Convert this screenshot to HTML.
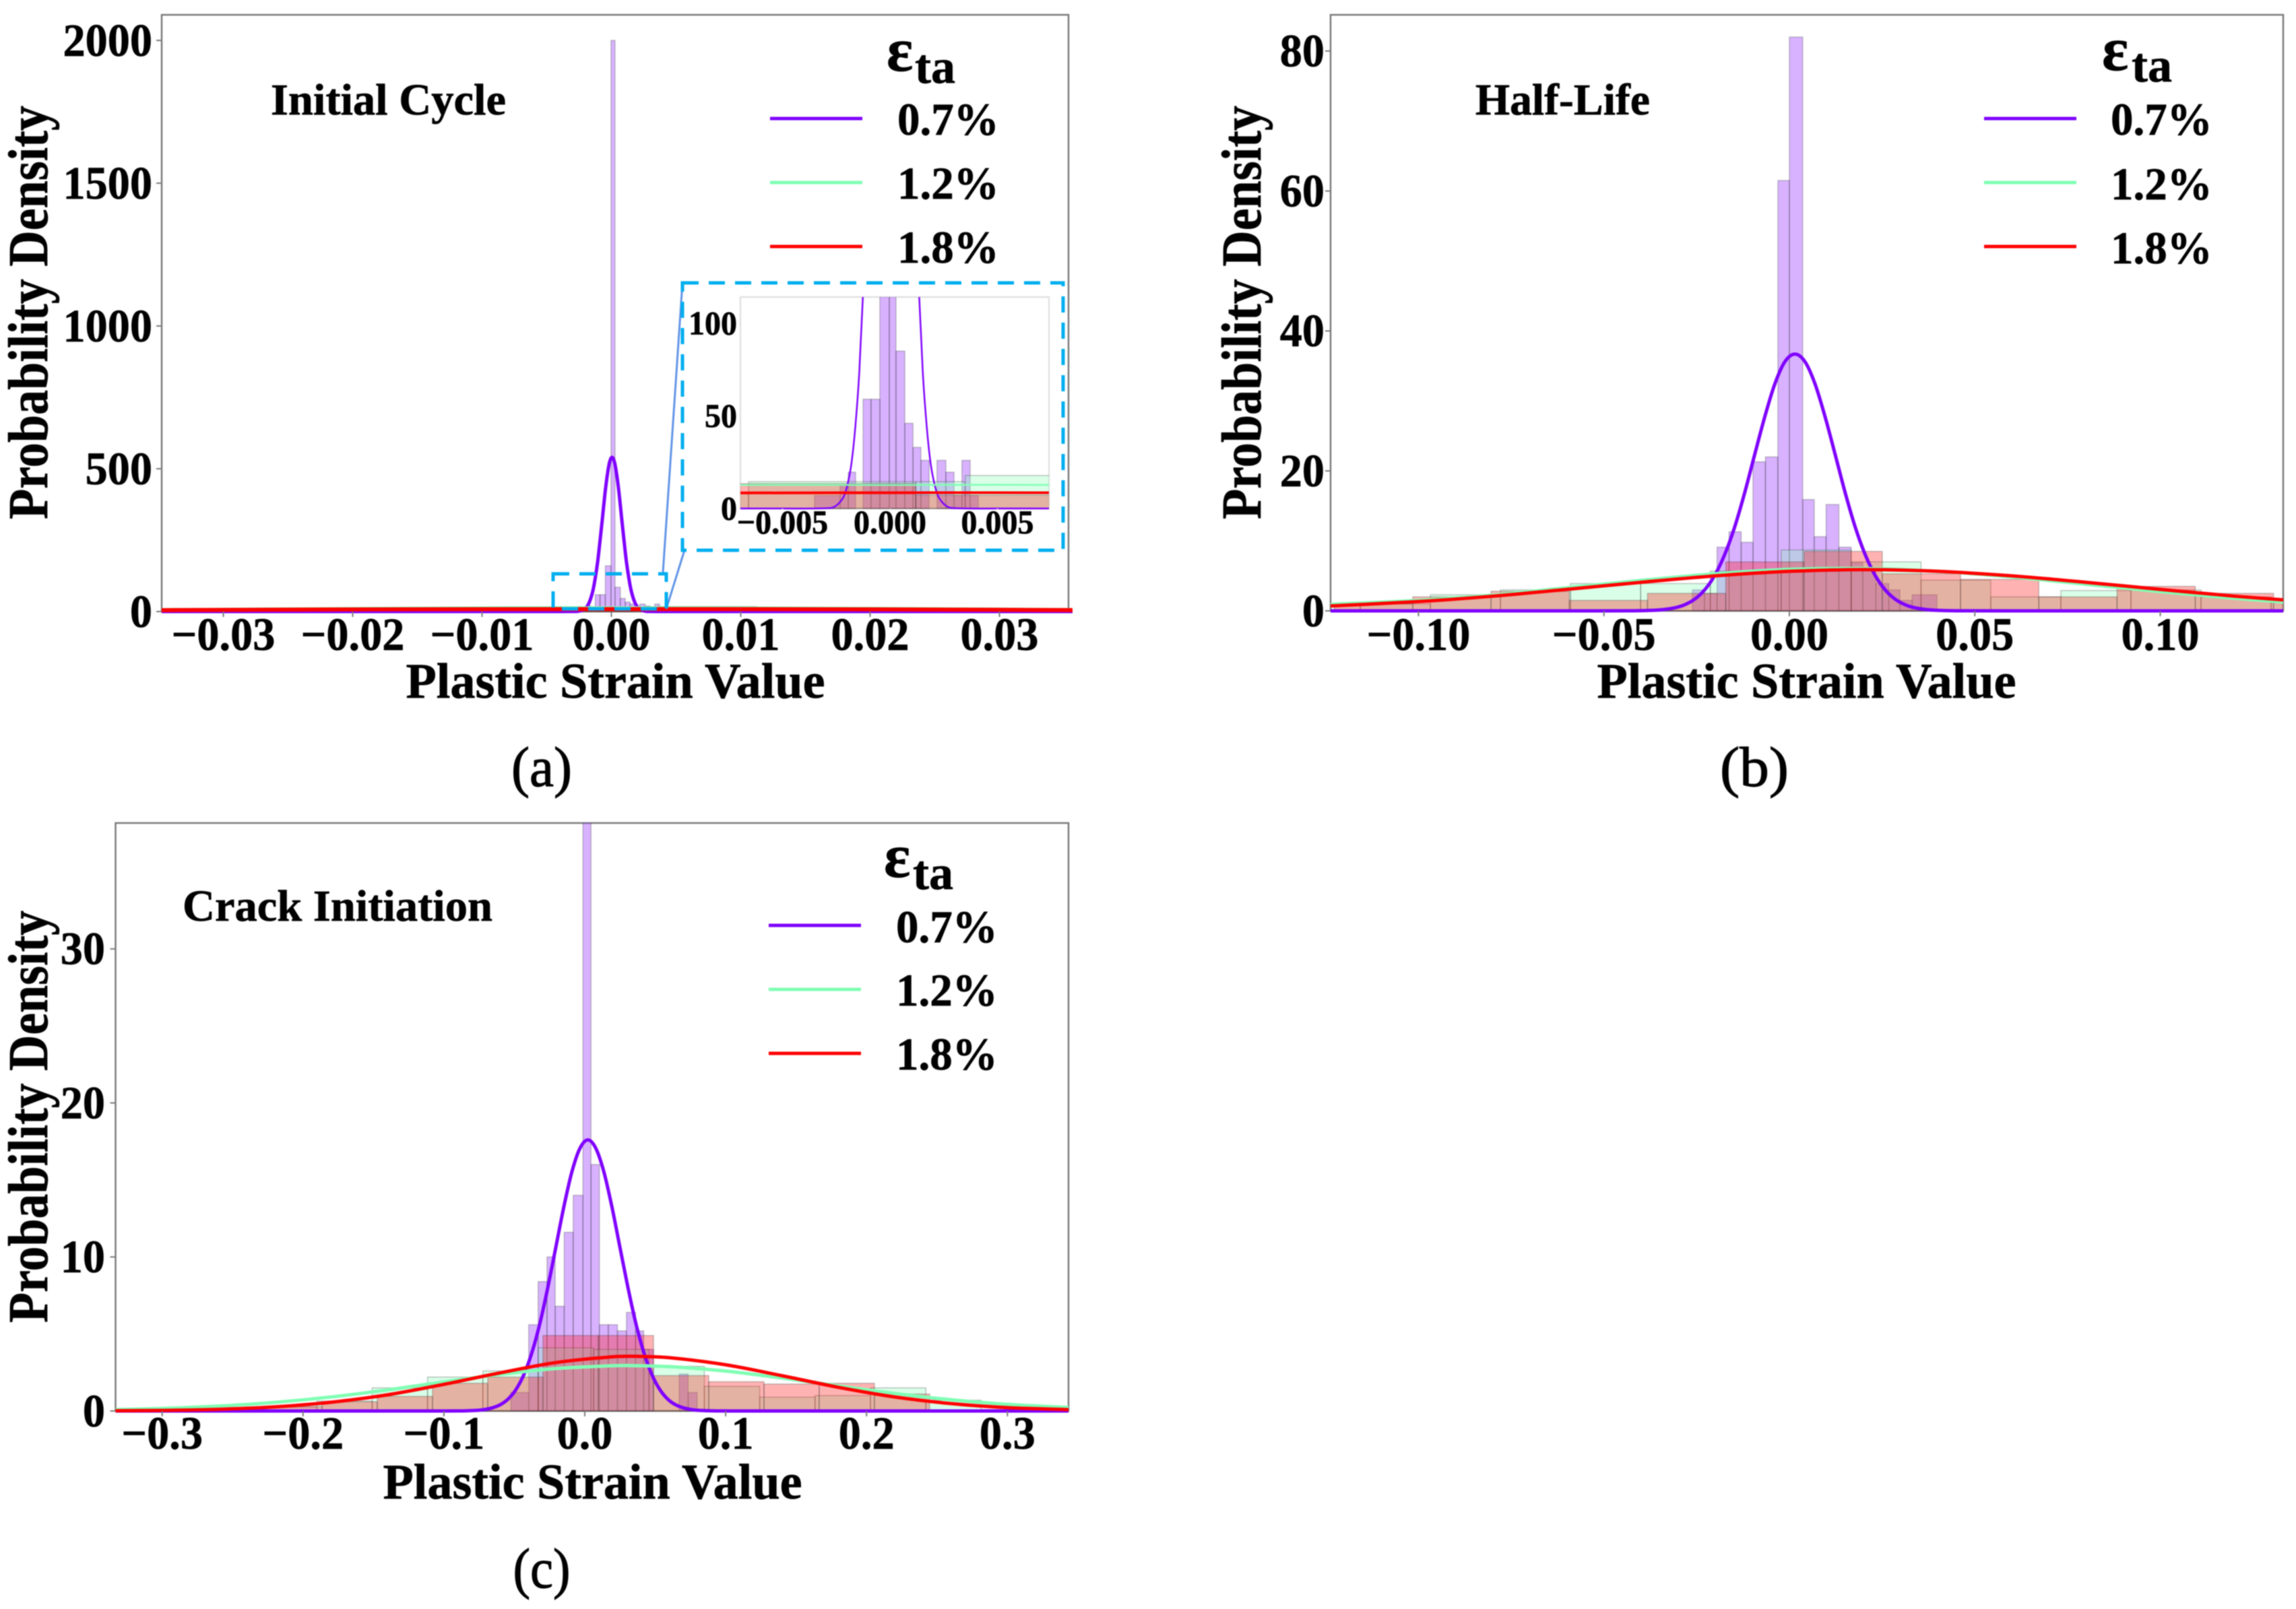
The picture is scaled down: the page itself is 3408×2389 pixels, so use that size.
<!DOCTYPE html>
<html>
<head>
<meta charset="utf-8">
<title>Plastic strain probability density</title>
<style>
html,body{margin:0;padding:0;background:#fff;width:3408px;height:2389px;overflow:hidden}
svg{display:block;filter:blur(0.8px)}
text{font-family:"Liberation Serif","DejaVu Serif",serif;font-weight:bold;fill:#000;stroke:#000;stroke-width:0.7px}
.cap{font-weight:normal;stroke-width:1.2px}
</style>
</head>
<body>
<svg id="fig" xmlns="http://www.w3.org/2000/svg" width="3408" height="2389" viewBox="0 0 3408 2389">
  <rect x="0" y="0" width="3408" height="2389" fill="#fff"/>
  <g id="panelA"></g>
  <g id="panelB"></g>
  <g id="panelC"></g>
  <g id="static">
    <text x="402" y="170" font-size="66" textLength="349" lengthAdjust="spacingAndGlyphs">Initial Cycle</text>
    <text x="2190" y="170" font-size="66" textLength="259" lengthAdjust="spacingAndGlyphs">Half-Life</text>
    <text x="271" y="1367" font-size="66" textLength="460" lengthAdjust="spacingAndGlyphs">Crack Initiation</text>

    <text x="913.5" y="1036" font-size="74" text-anchor="middle" textLength="622" lengthAdjust="spacingAndGlyphs">Plastic Strain Value</text>
    <text x="2681.5" y="1036" font-size="74" text-anchor="middle" textLength="622" lengthAdjust="spacingAndGlyphs">Plastic Strain Value</text>
    <text x="879.5" y="2225" font-size="74" text-anchor="middle" textLength="622" lengthAdjust="spacingAndGlyphs">Plastic Strain Value</text>

    <text transform="translate(70 464) rotate(-90)" x="0" y="0" font-size="84" text-anchor="middle" textLength="614" lengthAdjust="spacingAndGlyphs">Probability Density</text>
    <text transform="translate(1871 464) rotate(-90)" x="0" y="0" font-size="84" text-anchor="middle" textLength="614" lengthAdjust="spacingAndGlyphs">Probability Density</text>
    <text transform="translate(70 1658) rotate(-90)" x="0" y="0" font-size="84" text-anchor="middle" textLength="612" lengthAdjust="spacingAndGlyphs">Probability Density</text>

    <text class="cap" x="804" y="1167" font-size="84" text-anchor="middle" textLength="90" lengthAdjust="spacingAndGlyphs">(a)</text>
    <text class="cap" x="2604" y="1167" font-size="84" text-anchor="middle" textLength="102" lengthAdjust="spacingAndGlyphs">(b)</text>
    <text class="cap" x="804" y="2357" font-size="84" text-anchor="middle" textLength="85" lengthAdjust="spacingAndGlyphs">(c)</text>
  </g>
</svg>
<script>
// ---------- Panel A data ----------
const aXTicks = [-0.03, -0.02, -0.01, 0, 0.01, 0.02, 0.03];
const aXLabels = ['\u22120.03', '\u22120.02', '\u22120.01', '0.00', '0.01', '0.02', '0.03'];
const aYTicks = [0, 500, 1000, 1500, 2000];
const aYLabels = ['0', '500', '1000', '1500', '2000'];
const aInsetXTicks = [-0.005, 0, 0.005];
const aInsetXLabels = ['\u22120.005', '0.000', '0.005'];
const aInsetYTicks = [0, 50, 100];
const aInsetYLabels = ['0', '50', '100'];
const aPurpleEdges = [-0.00351, -0.00232, -0.00194, -0.0016, -0.00125, -0.00088, -0.00047, -0.00003, 0.00028, 0.00069, 0.00107, 0.00144, 0.00182, 0.00219, 0.0026, 0.00298, 0.00335, 0.00373, 0.00411];
const aPurpleHeights = [7, 13, 19.6, 0, 59, 59, 160, 2000, 85, 46, 33, 26, 0, 26, 19.6, 7, 26, 7];
const aGreenEdges = [-0.0144, -0.00658, 0.0012, 0.0035, 0.0112, 0.019, 0.0268, 0.0346];
const aGreenHeights = [8, 14.5, 14.5, 17.8, 9, 6, 4];
const aRedEdges = [-0.0386, -0.0253, -0.012, 0.0012, 0.0145, 0.028, 0.0413];
const aRedHeights = [3, 6, 13.4, 7.2, 5, 3];
const aPurpleCurveX = [-0.036, -0.005, -0.00291, -0.00254, -0.00217, -0.00199, -0.0018, -0.00162, -0.00143, -0.00125, -0.00106, -0.00088, -0.00069, -0.00051, -0.00032, -0.00014, 0.00005, 0.00024, 0.00042, 0.00061, 0.00079, 0.00098, 0.00116, 0.00135, 0.00153, 0.00172, 0.0019, 0.00209, 0.00227, 0.00264, 0.00301, 0.005, 0.036];
const aPurpleCurveY = [0, 0, 0.16, 1.2, 6, 12.3, 23.7, 43, 73, 116.8, 175, 247, 327.5, 407.6, 476.6, 523, 540, 523, 476.6, 407.6, 327.5, 247, 175, 116.8, 73, 43, 23.7, 12.3, 6, 1.2, 0.16, 0, 0];
const aGreenCurveX = [-0.036, -0.02, -0.0075, 0, 0.0075, 0.02, 0.036];
const aGreenCurveY = [6, 10, 12.6, 12.7, 12.7, 10.5, 6.5];
const aRedCurveX = [-0.036, -0.02, -0.0075, 0, 0.0075, 0.02, 0.036];
const aRedCurveY = [4.5, 7.5, 8.4, 8.5, 8.5, 7.6, 5];

// ---------- Panel B data ----------
const bXTicks = [-0.10, -0.05, 0, 0.05, 0.10];
const bXLabels = ['\u22120.10', '\u22120.05', '0.00', '0.05', '0.10'];
const bYTicks = [0, 20, 40, 60, 80];
const bYLabels = ['0', '20', '40', '60', '80'];
const bPurpleEdges = [-0.02616, -0.0229, -0.0195, -0.01626, -0.013, -0.0098, -0.00645, -0.0031, 0, 0.0036, 0.0067, 0.0099, 0.01335, 0.01668, 0.0198, 0.0233, 0.0268, 0.0298, 0.0331, 0.0398];
const bPurpleHeights = [3, 2.5, 9.1, 11.3, 9.8, 21.3, 22, 61.5, 82, 15.9, 10.6, 15.2, 9.1, 6.9, 5.8, 3.9, 3, 1.5, 2.3];
const bGreenEdges = [-0.1346, -0.1157, -0.0968, -0.0779, -0.059, -0.0401, -0.0213, -0.0022, 0.01668, 0.0355, 0.0543, 0.0732, 0.0921, 0.111, 0.1299, 0.1488];
const bGreenHeights = [0.8, 1, 2.3, 3, 3.9, 3.9, 5.7, 8.7, 7, 4.4, 2, 2.9, 3, 2, 1.5];
const bRedEdges = [-0.12265, -0.10155, -0.08045, -0.05935, -0.03825, -0.01715, 0.00395, 0.02505, 0.04615, 0.06725, 0.08835, 0.10945, 0.13055, 0.15165];
const bRedHeights = [1, 2, 2.8, 1.5, 2.5, 7, 8.5, 5.3, 4.5, 2, 3.5, 2.5, 1.3];
const bPurpleCurveX = [-0.125, -0.06, -0.04198, -0.03655, -0.03383, -0.03111, -0.02839, -0.02568, -0.02296, -0.02024, -0.01752, -0.0148, -0.01209, -0.00937, -0.00665, -0.00394, -0.00122, 0.0015, 0.00422, 0.00694, 0.00965, 0.01237, 0.01509, 0.0178, 0.02052, 0.02324, 0.02596, 0.02868, 0.03139, 0.03411, 0.03683, 0.03955, 0.04498, 0.06, 0.135];
const bPurpleCurveY = [0, 0, 0.01, 0.08, 0.19, 0.41, 0.84, 1.61, 2.92, 4.97, 7.94, 11.9, 16.8, 22.3, 27.7, 32.4, 35.6, 36.7, 35.6, 32.4, 27.7, 22.3, 16.8, 11.9, 7.94, 4.97, 2.92, 1.61, 0.84, 0.41, 0.19, 0.08, 0.01, 0, 0];
const bGreenCurveX = [-0.125, -0.10, -0.08, -0.06, -0.04, -0.02, 0, 0.02, 0.04, 0.06, 0.08, 0.10, 0.12, 0.135];
const bGreenCurveY = [0.9, 1.5, 2.25, 3.3, 4.35, 5.3, 5.93, 6.05, 5.65, 4.85, 3.8, 2.75, 1.8, 1.2];
const bRedCurveX = [-0.125, -0.10, -0.08, -0.06, -0.04, -0.02, 0, 0.02, 0.04, 0.06, 0.08, 0.10, 0.12, 0.135];
const bRedCurveY = [0.67, 1.33, 2.1, 3.07, 4.08, 5, 5.65, 5.9, 5.65, 5, 4.08, 3.07, 2.1, 1.5];

// ---------- Panel C data ----------
const cXTicks = [-0.3, -0.2, -0.1, 0, 0.1, 0.2, 0.3];
const cXLabels = ['\u22120.3', '\u22120.2', '\u22120.1', '0.0', '0.1', '0.2', '0.3'];
const cYTicks = [0, 10, 20, 30];
const cYLabels = ['0', '10', '20', '30'];
const cPurpleEdges = [-0.0525, -0.0398, -0.0331, -0.0268, -0.021, -0.0146, -0.0082, -0.0013, 0.0044, 0.0104, 0.0167, 0.0232, 0.0296, 0.036, 0.0418, 0.0488, 0.067, 0.0734, 0.0798];
const cPurpleHeights = [1.2, 5.6, 8.4, 10, 6.8, 11.6, 14, 50, 16, 5.6, 5.6, 5.2, 6.4, 5.2, 4, 0, 2.4, 1.2];
const cGreenEdges = [-0.2688, -0.2295, -0.1902, -0.1509, -0.1116, -0.0723, -0.033, 0.0063, 0.0456, 0.0849, 0.1242, 0.1635, 0.2028, 0.2421, 0.2814, 0.3207];
const cGreenHeights = [0.05, 0.25, 0.65, 1.5, 2.2, 2.6, 4.1, 4, 2.9, 1.6, 0.9, 1, 1.5, 0.7, 0.1];
const cRedEdges = [-0.2649, -0.2257, -0.1865, -0.1473, -0.1081, -0.0689, -0.0297, 0.0096, 0.0488, 0.088, 0.1272, 0.1664, 0.2056, 0.2448];
const cRedHeights = [0.1, 0.3, 0.6, 0.95, 1.8, 2.2, 4.9, 4.9, 2.3, 1.9, 1.75, 1.8, 1.1];
const cPurpleCurveX = [-0.34, -0.12, -0.08848, -0.07715, -0.07148, -0.0658, -0.06014, -0.05448, -0.0488, -0.04314, -0.03747, -0.0318, -0.02614, -0.02047, -0.0148, -0.00914, -0.00347, 0.0022, 0.00787, 0.01354, 0.0192, 0.02487, 0.03054, 0.0362, 0.04187, 0.04754, 0.0532, 0.05888, 0.06454, 0.0702, 0.07588, 0.08155, 0.09288, 0.12, 0.35];
const cPurpleCurveY = [0, 0, 0.005, 0.04, 0.09, 0.2, 0.4, 0.77, 1.4, 2.38, 3.81, 5.71, 8.06, 10.67, 13.28, 15.53, 17.05, 17.6, 17.05, 15.53, 13.28, 10.67, 8.06, 5.71, 3.81, 2.38, 1.4, 0.77, 0.4, 0.2, 0.09, 0.04, 0.005, 0, 0];
const cGreenCurveX = [-0.34, -0.30, -0.26, -0.22, -0.18, -0.14, -0.10, -0.06, -0.02, 0.02, 0.03, 0.06, 0.10, 0.14, 0.18, 0.22, 0.26, 0.30, 0.35];
const cGreenCurveY = [0.08, 0.165, 0.32, 0.56, 0.91, 1.37, 1.89, 2.38, 2.76, 2.94, 2.95, 2.88, 2.59, 2.14, 1.63, 1.14, 0.73, 0.43, 0.2];
const cRedCurveX = [-0.34, -0.30, -0.26, -0.22, -0.18, -0.14, -0.10, -0.06, -0.02, 0.02, 0.035, 0.06, 0.10, 0.14, 0.18, 0.22, 0.26, 0.30, 0.35];
const cRedCurveY = [0.013, 0.04, 0.11, 0.27, 0.57, 1.05, 1.73, 2.48, 3.15, 3.52, 3.55, 3.46, 3, 2.29, 1.54, 0.91, 0.48, 0.22, 0.07];

// ---------- Legend data ----------
const legendLabels = ['0.7%', '1.2%', '1.8%'];

// ---------- Rendering helpers ----------
const SVGNS = 'http://www.w3.org/2000/svg';
const PURPLE = '#7f00ff';
const GREEN = '#80ffb4';
const RED = '#ff0000';
const FONT_SQUEEZE = 0.96;
let clipCounter = 0;

function mk(tag, parent, attrs) {
  const el = document.createElementNS(SVGNS, tag);
  for (const k in attrs) el.setAttribute(k, attrs[k]);
  parent.appendChild(el);
  return el;
}

function squeeze(t, f) {
  const len = t.getComputedTextLength();
  t.setAttribute('textLength', (len * f).toFixed(1));
  t.setAttribute('lengthAdjust', 'spacingAndGlyphs');
}

function smoothPath(xs, ys, sx, sy) {
  const px = xs.map(sx), py = ys.map(sy);
  let d = 'M' + px[0].toFixed(2) + ' ' + py[0].toFixed(2);
  for (let i = 0; i < px.length - 1; i++) {
    const i0 = Math.max(0, i - 1), i3 = Math.min(px.length - 1, i + 2);
    const dx = px[i + 1] - px[i];
    const m1 = (py[i + 1] - py[i0]) / Math.max(px[i + 1] - px[i0], 1e-6);
    const m2 = (py[i3] - py[i]) / Math.max(px[i3] - px[i], 1e-6);
    d += 'C' + (px[i] + dx / 3).toFixed(2) + ' ' + (py[i] + m1 * dx / 3).toFixed(2) + ' ' +
      (px[i + 1] - dx / 3).toFixed(2) + ' ' + (py[i + 1] - m2 * dx / 3).toFixed(2) + ' ' +
      px[i + 1].toFixed(2) + ' ' + py[i + 1].toFixed(2);
  }
  return d;
}

function drawHist(g, edges, heights, color, sx, sy) {
  for (let i = 0; i < heights.length; i++) {
    if (heights[i] <= 0) continue;
    const x0 = sx(edges[i]), x1 = sx(edges[i + 1]), y = sy(heights[i]), y0 = sy(0);
    const bar = mk('rect', g, {
      x: x0, y: y, width: x1 - x0, height: y0 - y,
      fill: color, 'fill-opacity': 0.3, stroke: '#3c3c3c', 'stroke-opacity': 0.3, 'stroke-width': 1.5
    });
    
    
  }
}

function drawCurve(g, xs, ys, color, width, sx, sy) {
  const line = mk('path', g, {
    d: smoothPath(xs, ys, sx, sy), fill: 'none', stroke: color, 'stroke-width': width,
    'stroke-linejoin': 'round'
  });
  
  
}

function drawAxes(parent, o) {
  const sx = v => o.x0 + v * o.xScale;
  const sy = v => o.y0 - v * o.yScale;
  const clipId = 'clip' + (++clipCounter);
  const clip = mk('clipPath', parent, { id: clipId });
  mk('rect', clip, { x: o.left, y: o.top, width: o.right - o.left + (o.clipPadRight || 0), height: o.y0 - o.top + 6 });

  if (o.background) {
    const bg = mk('rect', parent, { x: o.left, y: o.top, width: o.right - o.left, height: o.y0 - o.top, fill: '#fff' });
    
    
  }

  const marks = mk('g', parent, { 'clip-path': 'url(#' + clipId + ')' });
  
  

  const frame = mk('rect', parent, {
    x: o.left, y: o.top, width: o.right - o.left, height: o.y0 - o.top,
    fill: 'none', stroke: o.frameColor, 'stroke-width': o.frameWidth
  });
  
  
  parent.appendChild(marks);

  drawHist(marks, o.series[0].edges, o.series[0].heights, PURPLE, sx, sy);
  drawHist(marks, o.series[1].edges, o.series[1].heights, GREEN, sx, sy);
  drawHist(marks, o.series[2].edges, o.series[2].heights, RED, sx, sy);
  drawCurve(marks, o.series[0].cx, o.series[0].cy, PURPLE, o.purpleWidth, sx, sy);
  drawCurve(marks, o.series[1].cx, o.series[1].cy, GREEN, o.greenWidth, sx, sy);
  drawCurve(marks, o.series[2].cx, o.series[2].cy, RED, o.redWidth, sx, sy);

  o.xTicks.forEach((v, i) => {
    const tick = mk('line', parent, { x1: sx(v), x2: sx(v), y1: o.y0, y2: o.y0 + o.tickLen, stroke: o.frameColor, 'stroke-width': 2 });
    
    
    const t = mk('text', parent, { x: sx(v), y: o.xLabelY, 'font-size': o.fontSize, 'text-anchor': 'middle' });
    t.textContent = o.xLabels[i];
    
    
    squeeze(t, FONT_SQUEEZE);
  });
  o.yTicks.forEach((v, i) => {
    const tick = mk('line', parent, { x1: o.left - o.tickLen, x2: o.left, y1: sy(v), y2: sy(v), stroke: o.frameColor, 'stroke-width': 2 });
    
    
    const t = mk('text', parent, { x: o.yLabelX, y: sy(v) + o.fontSize * 0.33, 'font-size': o.fontSize, 'text-anchor': 'end' });
    t.textContent = o.yLabels[i];
    
    
    squeeze(t, FONT_SQUEEZE);
  });
}

function drawLegend(parent, o) {
  const colors = [PURPLE, GREEN, RED];
  const head = mk('g', parent, {});
  
  
  const eps = mk('text', head, { x: o.epsX, y: o.epsY, 'font-size': 92 });
  eps.textContent = '\u03b5';
  
  
  const ta = mk('text', head, { x: o.taX, y: o.taY, 'font-size': 72 });
  ta.textContent = 'ta';
  
  
  legendLabels.forEach((lab, i) => {
    const entry = mk('g', parent, {});
    
    
    const ln = mk('line', entry, { x1: o.lineX0, x2: o.lineX1, y1: o.lineY[i], y2: o.lineY[i], stroke: colors[i], 'stroke-width': 5 });
    
    
    const t = mk('text', entry, { x: o.textX, y: o.textY[i], 'font-size': 68 });
    t.textContent = lab;
    
    
    squeeze(t, 0.985);
  });
}

const aSeries = [
  { edges: aPurpleEdges, heights: aPurpleHeights, cx: aPurpleCurveX, cy: aPurpleCurveY },
  { edges: aGreenEdges, heights: aGreenHeights, cx: aGreenCurveX, cy: aGreenCurveY },
  { edges: aRedEdges, heights: aRedHeights, cx: aRedCurveX, cy: aRedCurveY }
];
const bSeries = [
  { edges: bPurpleEdges, heights: bPurpleHeights, cx: bPurpleCurveX, cy: bPurpleCurveY },
  { edges: bGreenEdges, heights: bGreenHeights, cx: bGreenCurveX, cy: bGreenCurveY },
  { edges: bRedEdges, heights: bRedHeights, cx: bRedCurveX, cy: bRedCurveY }
];
const cSeries = [
  { edges: cPurpleEdges, heights: cPurpleHeights, cx: cPurpleCurveX, cy: cPurpleCurveY },
  { edges: cGreenEdges, heights: cGreenHeights, cx: cGreenCurveX, cy: cGreenCurveY },
  { edges: cRedEdges, heights: cRedHeights, cx: cRedCurveX, cy: cRedCurveY }
];

const mainStyle = { purpleWidth: 5, greenWidth: 5, redWidth: 5, frameColor: '#7a7a7a', frameWidth: 2.5, tickLen: 8, fontSize: 69 };

const panelA = document.getElementById('panelA');
const panelB = document.getElementById('panelB');
const panelC = document.getElementById('panelC');

drawAxes(panelA, Object.assign({}, mainStyle, {
  left: 240, right: 1586, top: 22, y0: 908, x0: 907.5, xScale: 19200, yScale: 0.424,
  series: aSeries, xTicks: aXTicks, xLabels: aXLabels, yTicks: aYTicks, yLabels: aYLabels,
  xLabelY: 965, yLabelX: 226, redWidth: 6, clipPadRight: 6
}));
drawLegend(panelA, { epsX: 1316, epsY: 105, taX: 1358, taY: 123, lineX0: 1143, lineX1: 1280, lineY: [176, 271, 366], textX: 1332, textY: [200, 295, 390] });

// Inset zoom on panel A
drawAxes(panelA, {
  left: 1099, right: 1557, top: 441, y0: 755, x0: 1321, xScale: 31900, yScale: 2.75,
  series: aSeries, xTicks: aInsetXTicks, xLabels: aInsetXLabels, yTicks: aInsetYTicks, yLabels: aInsetYLabels,
  xLabelY: 792, yLabelX: 1094, background: true, purpleWidth: 2.5, greenWidth: 2.5, redWidth: 4,
  frameColor: '#e2e2e2', frameWidth: 2.5, tickLen: 2, fontSize: 50
});
const zoomBox = mk('g', panelA, {});


const conn1 = mk('line', zoomBox, { x1: 984, y1: 850, x2: 1013, y2: 420, stroke: '#5f93e6', 'stroke-width': 3 });


const conn2 = mk('line', zoomBox, { x1: 989, y1: 904, x2: 1016, y2: 817, stroke: '#5f93e6', 'stroke-width': 3 });


const smallBox = mk('rect', zoomBox, { x: 821, y: 852, width: 168, height: 52, fill: 'none', stroke: '#00aeef', 'stroke-width': 5, 'stroke-dasharray': '24 15' });


const bigBox = mk('rect', zoomBox, { x: 1013, y: 420, width: 565, height: 397, fill: 'none', stroke: '#00aeef', 'stroke-width': 5, 'stroke-dasharray': '24 15' });



drawAxes(panelB, Object.assign({}, mainStyle, {
  left: 1975, right: 3389, top: 22, y0: 907, x0: 2656, xScale: 5505, yScale: 10.39,
  series: bSeries, xTicks: bXTicks, xLabels: bXLabels, yTicks: bYTicks, yLabels: bYLabels,
  xLabelY: 965, yLabelX: 1966
}));
drawLegend(panelB, { epsX: 3120, epsY: 104, taX: 3164, taY: 121, lineX0: 2945, lineX1: 3082, lineY: [176, 271, 366], textX: 3133, textY: [200, 296, 391] });

drawAxes(panelC, Object.assign({}, mainStyle, {
  left: 171.5, right: 1586, top: 1222, y0: 2095, x0: 868, xScale: 2091, yScale: 22.87,
  series: cSeries, xTicks: cXTicks, xLabels: cXLabels, yTicks: cYTicks, yLabels: cYLabels,
  xLabelY: 2151, yLabelX: 156
}));
drawLegend(panelC, { epsX: 1312, epsY: 1302, taX: 1355, taY: 1320, lineX0: 1141, lineX1: 1278, lineY: [1374, 1469, 1564], textX: 1330, textY: [1399, 1493, 1588] });
</script>
</body>
</html>
